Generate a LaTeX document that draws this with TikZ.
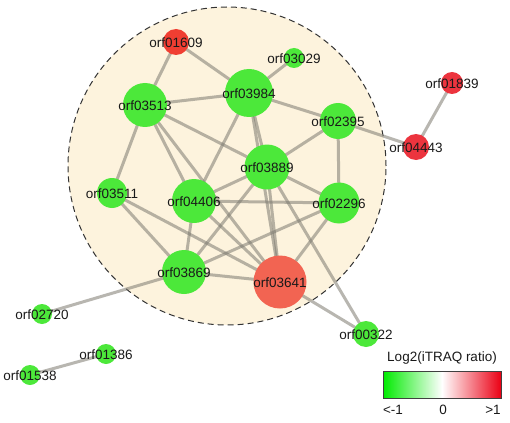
\documentclass[tikz,border=0pt]{standalone}
\usepackage{fontspec}
\setmainfont{Liberation Sans}
\definecolor{gn}{RGB}{76,232,58}
\definecolor{rd}{RGB}{240,62,50}
\definecolor{rd2}{RGB}{242,100,82}
\definecolor{rd3}{RGB}{236,52,62}
\definecolor{cream}{RGB}{253,243,221}
\definecolor{edgec}{RGB}{125,122,112}
\definecolor{lgn}{RGB}{0,235,0}
\definecolor{lrd}{RGB}{235,0,20}
\pgfdeclarelayer{bg}
\pgfdeclarelayer{fg}
\pgfsetlayers{bg,main,fg}
\begin{document}
\begin{tikzpicture}[x=1pt,y=-1pt,
  nd/.style={circle,inner sep=0pt,draw=none,minimum size=#1},
  lbl/.style={inner sep=0pt,font=\fontsize{13.5}{15}\selectfont,text=black!90},
  edge/.style={line width=3pt,draw=edgec,draw opacity=0.55},
  hull/.style={fill=cream,draw=black!80,line width=1pt,dash pattern=on 6pt off 4pt},
  legbox/.style={draw=black!75,line width=1pt,minimum width=118pt,minimum height=27pt,inner sep=0pt,
    left color=lgn,right color=lrd,middle color=white}]
\useasboundingbox (0,0) rectangle (510,422);
% nodes
\foreach \n/\x/\y/\d/\c in {
  01609/176/42/26/rd, 03513/145/105/44/gn, 03984/249/93/48/gn,
  03029/294/58/20/gn, 02395/338/121/36/gn, 01839/452/83/22/rd3,
  04443/416/147/26/rd3, 03889/267/167/45/gn, 04406/194/201/44/gn,
  02296/339/203/41/gn, 03511/112/193/30/gn, 03869/184/272/44/gn,
  03641/280/282/53/rd2, 00322/366/334/26/gn, 02720/42/314/20/gn,
  01386/106/354/20/gn, 01538/30/375/20/gn}
  {\node[nd=\d pt,fill=\c] (o\n) at (\x,\y) {};
   \begin{pgfonlayer}{fg}
   \node[lbl] (t\n) at (\x,\y+0.5) {orf\n};
   \end{pgfonlayer}}
% cluster hull and edges
\begin{pgfonlayer}{bg}
\node[circle,hull,minimum size=318pt,inner sep=0pt] (hullc) at (227,166) {};
\foreach \a/\b in {
  01609/03513, 01609/03984, 03513/03984, 03029/03984, 03984/02395,
  02395/04443, 04443/01839, 03513/03511, 03513/03889, 03513/04406,
  03513/03641, 03984/04406, 03984/03889, 03984/03641, 03889/02395,
  03889/02296, 03889/04406, 03889/03869, 03889/00322, 03889/03641,
  02395/02296, 04406/02296, 04406/03869, 04406/03641, 02296/03869,
  02296/03641, 03869/03641, 03511/03641, 03511/03869, 03869/02720,
  03641/00322, 01386/01538}
  {\draw[edge] (o\a.center) -- (o\b.center);}
\end{pgfonlayer}
% legend
\node[lbl] (legt) at (442,358) {Log2(iTRAQ ratio)};
\node[legbox] (legb) at (442,384.5) {};
\node[lbl] (lmin) at (393,410) {<-1};
\node[lbl] (lzero) at (443,410) {0};
\node[lbl] (lmax) at (493,410) {>1};
\end{tikzpicture}
\end{document}
